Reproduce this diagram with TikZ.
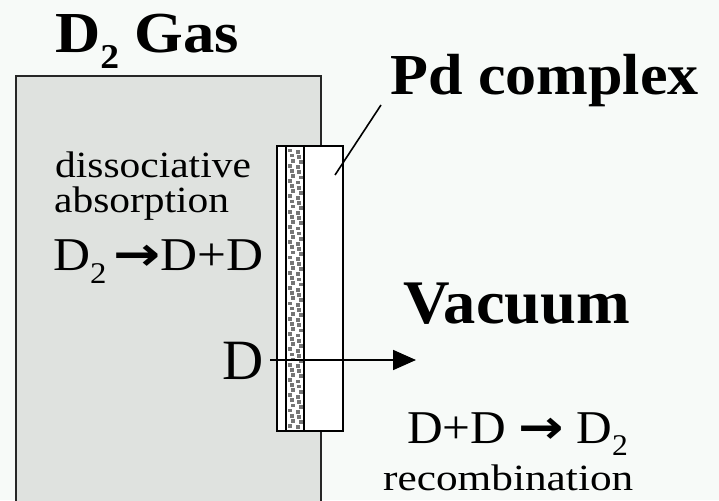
\documentclass[tikz,border=0pt]{standalone}
\usepackage{fontspec}
\usepackage{graphicx}
\setmainfont{Liberation Serif}
\newfontfamily\arrowfont{DejaVu Sans}
\usetikzlibrary{arrows.meta}
\definecolor{bgc}{RGB}{247,250,248}
\definecolor{gasc}{RGB}{223,226,223}
\definecolor{dotc}{RGB}{118,118,118}
\newcommand\lowsub[2]{\raisebox{-#1em}{\scalebox{#2}{2}}}
\newcommand\fatarrow{{\arrowfont\bfseries\scalebox{1.1}[1]{→}}}
\begin{document}
\begin{tikzpicture}[x=1pt,y=-1pt,
  txt/.style={inner sep=0pt, anchor=base west},
  big/.style={font=\fontsize{58}{58}\selectfont\bfseries},
  mid/.style={font=\fontsize{47}{47}\selectfont},
  small/.style={font=\fontsize{37}{37}\selectfont}]
\useasboundingbox (0,0) rectangle (719,500);
\fill[bgc] (0,0) rectangle (719,500);
% gas chamber
\draw[fill=gasc, draw=black!85, line width=1.6pt] (16,505) -- (16,76) -- (321,76) -- (321,505);
% membrane
\node[draw, line width=2pt, fill=white, minimum width=66pt, minimum height=285pt, inner sep=0pt] (mem) at (310,288.5) {};
\node[draw, line width=2pt, fill=white, minimum width=18pt, minimum height=285pt, inner sep=0pt] (band) at (295,288.5) {};
\foreach \r in {0,...,54}{
  \pgfmathsetmacro{\yy}{148.5+5.1*\r}
  \pgfmathsetmacro{\xo}{mod(\r,3)*1.5}
  \fill[dotc] (288.3+\xo,\yy) rectangle ++(4,3.8);
  \fill[dotc] (295.5+\xo,\yy+1.5) rectangle ++(4,3.8);
}
% labels
\node[txt, big, xscale=1.08] (gas) at (55,53) {D\lowsub{0.26}{0.6} Gas};
\node[txt, big, xscale=1.07] (pd) at (390,95) {Pd complex};
\node[txt, font=\fontsize{62}{62}\selectfont\bfseries, xscale=1.04] (vac) at (403,323) {Vacuum};
\node[txt, small, xscale=1.12] (dis) at (55,177) {dissociative};
\node[txt, small, xscale=1.12] (abs) at (54,212) {absorption};
\node[txt, mid, xscale=1.09] (r1) at (53,270) {D\lowsub{0.28}{0.64}\hspace{6pt}\fatarrow D+D};
\node[txt, font=\fontsize{57}{57}\selectfont] (dd) at (222,379) {D};
\node[txt, mid, xscale=1.05] (r2) at (407,443) {D+D \fatarrow\ D\lowsub{0.26}{0.64}};
\node[txt, small, xscale=1.17] (rec) at (383,490) {recombination};
% leader
\coordinate (ls) at (335,175);
\coordinate (le) at (381,105);
\draw[line width=1.6pt] (ls) -- (le);
% flux arrow
\coordinate (as) at (270,360);
\coordinate (ae) at (416,360);
\draw[line width=1.8pt, -{Triangle[length=23pt,width=20pt]}] (as) -- (ae);
\end{tikzpicture}
\end{document}
